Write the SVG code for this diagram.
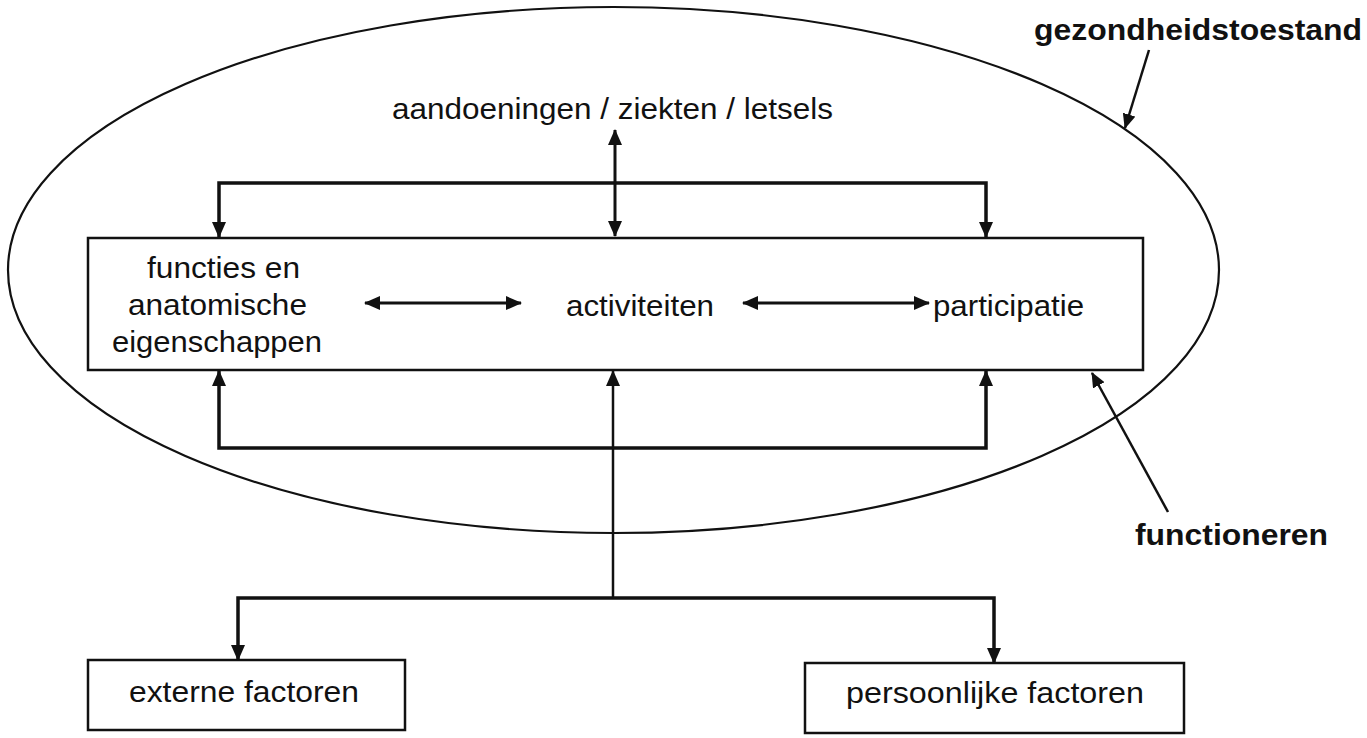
<svg xmlns="http://www.w3.org/2000/svg" width="1367" height="738" viewBox="0 0 1367 738">
<style>
  .t { font-family: "Liberation Sans", Arial, sans-serif; font-size: 30px; fill: #111; }
  .b { font-family: "Liberation Sans", Arial, sans-serif; font-size: 29px; font-weight: bold; fill: #111; }
  .box { fill: #fff; stroke: #111; stroke-width: 2.5; }
  .conn { fill: none; stroke: #111; stroke-width: 3.5; stroke-linejoin: miter; }
  .thin { fill: none; stroke: #111; stroke-width: 3; }
  .ann { fill: none; stroke: #111; stroke-width: 2.5; }
  .ell { fill: none; stroke: #111; stroke-width: 2.2; }
</style>
<defs>
  <marker id="ah" markerUnits="userSpaceOnUse" viewBox="0 0 16 14" refX="15" refY="7" markerWidth="16" markerHeight="14" orient="auto-start-reverse">
    <path d="M0,0 L16,7 L0,14 z" fill="#111"/>
  </marker>
  <marker id="ahs" markerUnits="userSpaceOnUse" viewBox="0 0 15 13" refX="14" refY="6.5" markerWidth="15" markerHeight="13" orient="auto-start-reverse">
    <path d="M0,0 L15,6.5 L0,13 z" fill="#111"/>
  </marker>
</defs>
<rect width="1367" height="738" fill="#fff"/>

<g id="gezondheidstoestand">
  <ellipse class="ell" cx="613.5" cy="270" rx="605.5" ry="263"/>
  <text class="b" x="1034" y="40" textLength="328" lengthAdjust="spacingAndGlyphs">gezondheidstoestand</text>
</g>

<g id="aandoeningen">
  <text class="t" x="392" y="119" textLength="441" lengthAdjust="spacingAndGlyphs">aandoeningen / ziekten / letsels</text>
</g>

<g id="functioneren-box">
  <rect class="box" x="88" y="238" width="1055" height="132"/>
</g>

<g id="functies">
  <text class="t" x="147" y="278" textLength="153" lengthAdjust="spacingAndGlyphs">functies en</text>
  <text class="t" x="128" y="315" textLength="179" lengthAdjust="spacingAndGlyphs">anatomische</text>
  <text class="t" x="112" y="352" textLength="210" lengthAdjust="spacingAndGlyphs">eigenschappen</text>
</g>

<g id="activiteiten">
  <text class="t" x="566" y="316" textLength="148" lengthAdjust="spacingAndGlyphs">activiteiten</text>
</g>

<g id="participatie">
  <text class="t" x="933" y="316" textLength="151" lengthAdjust="spacingAndGlyphs">participatie</text>
</g>

<g id="functioneren">
  <text class="b" x="1135" y="545" textLength="193" lengthAdjust="spacingAndGlyphs">functioneren</text>
</g>

<g id="externe">
  <rect class="box" x="88" y="660" width="317" height="70"/>
  <text class="t" x="129" y="702" textLength="230" lengthAdjust="spacingAndGlyphs">externe factoren</text>
</g>

<g id="persoonlijke">
  <rect class="box" x="805" y="663" width="379" height="70"/>
  <text class="t" x="846" y="703" textLength="298" lengthAdjust="spacingAndGlyphs">persoonlijke factoren</text>
</g>

<g id="connectors">
  <path class="conn" d="M219,237 L219,183 L986,183 L986,237" marker-start="url(#ah)" marker-end="url(#ah)"/>
  <path class="thin" d="M615,130 L615,236" marker-start="url(#ah)" marker-end="url(#ah)"/>
  <path class="conn" d="M219,371 L219,448 L986,448 L986,371" marker-start="url(#ah)" marker-end="url(#ah)"/>
  <path class="ann" d="M613,598 L613,371" marker-end="url(#ah)"/>
  <path class="conn" d="M238,660 L238,598 L994,598 L994,663" marker-start="url(#ah)" marker-end="url(#ah)"/>
  <path class="thin" d="M365,303 L521,303" marker-start="url(#ah)" marker-end="url(#ah)"/>
  <path class="thin" d="M743,303 L929,303" marker-start="url(#ah)" marker-end="url(#ah)"/>
  <path class="ann" d="M1149,50 L1125,128" marker-end="url(#ahs)"/>
  <path class="ann" d="M1168,512 L1092,373" marker-end="url(#ahs)"/>
</g>
</svg>
